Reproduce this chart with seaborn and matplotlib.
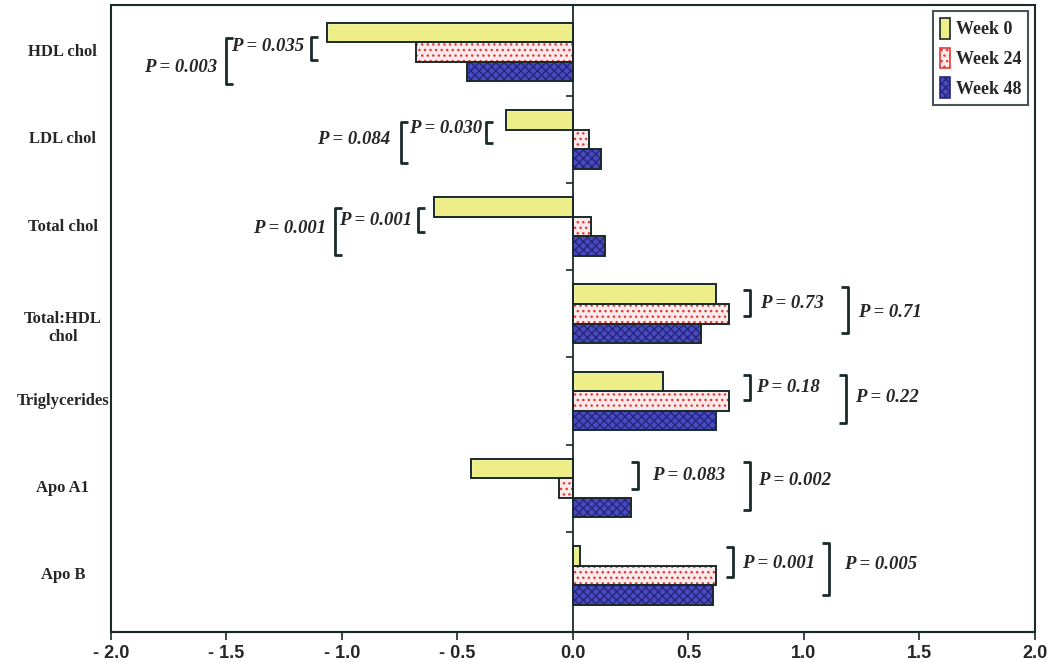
import matplotlib
matplotlib.use("Agg")
import matplotlib.pyplot as plt
import matplotlib.transforms as mtransforms
from matplotlib.patches import Rectangle, Patch
import pandas as pd
import seaborn as sns

categories = ["HDL chol", "LDL chol", "Total chol", "Total:HDL\nchol",
              "Triglycerides", "Apo A1", "Apo B"]
weeks = ["Week 0", "Week 24", "Week 48"]
week0 = [-1.065, -0.29, -0.60, 0.62, 0.39, -0.44, 0.03]
week24 = [-0.68, 0.07, 0.08, 0.675, 0.675, -0.06, 0.62]
week48 = [-0.46, 0.12, 0.14, 0.555, 0.62, 0.25, 0.605]
xticks = [-2.0, -1.5, -1.0, -0.5, 0.0, 0.5, 1.0, 1.5, 2.0]
xtick_labels = ["- 2.0", "- 1.5", "- 1.0", "- 0.5", "0.0", "0.5", "1.0", "1.5", "2.0"]
p_inner = ["P = 0.035", "P = 0.030", "P = 0.001", "P = 0.73", "P = 0.18", "P = 0.083", "P = 0.001"]
p_outer = ["P = 0.003", "P = 0.084", "P = 0.001", "P = 0.71", "P = 0.22", "P = 0.002", "P = 0.005"]

# bracket / label layout per category (offsets relative to category row)
# (inner x, inner y0, inner y1, text x, text y, outer x, outer y0, outer y1, text x, text y)
layout = [
    (-1.134, -0.17, 0.09, -1.32, -0.06, -1.50, -0.16, 0.36, -1.70, 0.18),
    (-0.377, -0.20, 0.04, -0.55, -0.13, -0.745, -0.20, 0.27, -0.95, 0.00),
    (-0.671, -0.21, 0.06, -0.853, -0.07, -1.03, -0.21, 0.33, -1.225, 0.02),
    (0.766, -0.27, 0.03, 0.948, -0.12, 1.19, -0.31, 0.22, 1.37, -0.01),
    (0.766, -0.30, -0.01, 0.93, -0.15, 1.18, -0.30, 0.25, 1.36, -0.04),
    (0.281, -0.30, 0.01, 0.50, -0.15, 0.766, -0.30, 0.25, 0.96, -0.09),
    (0.693, -0.32, 0.02, 0.89, -0.14, 1.11, -0.37, 0.22, 1.33, -0.12),
]

df = pd.DataFrame({
    "category": categories * 3,
    "week": [w for w in weeks for _ in categories],
    "value": week0 + week24 + week48,
})

sns.set_style("white")
plt.rcParams["hatch.linewidth"] = 1.0
serif = ["Liberation Serif", "DejaVu Serif"]
dark = "#1a2a2a"

styles = {
    "Week 0": dict(fc="#eeee88", hatch=None, hc=dark),
    "Week 24": dict(fc="#fdeaea", hatch="...", hc="#e03a3a"),
    "Week 48": dict(fc="#4a4ac2", hatch="xxxx", hc="#26267a"),
}

fig = plt.figure(figsize=(10.5, 6.62), dpi=100)
ax = fig.add_axes([0.1057, 0.0453, 0.88, 0.947])

sns.barplot(data=df, x="value", y="category", hue="week", orient="h",
            order=categories, hue_order=weeks, width=0.672, gap=0,
            palette=[styles[w]["fc"] for w in weeks], saturation=1,
            legend=False, ax=ax)

for cont, w in zip(ax.containers, weeks):
    st = styles[w]
    for bar in cont:
        if st["hatch"]:
            bar.set_hatch(st["hatch"])
            bar.set_edgecolor(st["hc"])
            bar.set_linewidth(0)
        ax.add_patch(Rectangle(bar.get_xy(), bar.get_width(), bar.get_height(),
                               fill=False, ec=dark, lw=1.4, zorder=3))

ax.set_xlim(-2, 2)
ax.set_ylim(6.65, -0.54)
ax.set_xlabel("")
ax.set_ylabel("")

# frame and zero line
for s in ["top", "right"]:
    ax.spines[s].set_visible(False)
ax.spines["left"].set_position(("data", 0))
ax.spines["left"].set_color(dark)
ax.spines["left"].set_linewidth(1.3)
ax.spines["bottom"].set_color(dark)
ax.spines["bottom"].set_linewidth(1.5)
ax.add_patch(Rectangle((0, 0), 1, 1, transform=ax.transAxes, fill=False,
                       ec=dark, lw=1.5, clip_on=False, zorder=5))

ax.set_yticks([i + 0.5 for i in range(len(categories) - 1)])
ax.set_yticklabels([])
ax.tick_params(axis="y", direction="out", length=5, width=1.2, color=dark, left=True)
ax.set_xticks(xticks)
ax.set_xticklabels(xtick_labels, fontfamily="Liberation Sans", fontweight="bold",
                   fontsize=13, fontstretch="condensed")
ax.tick_params(axis="x", direction="out", length=6, width=1.2, color=dark, bottom=True, pad=3)

trans = mtransforms.blended_transform_factory(ax.transAxes, ax.transData)
for i, c in enumerate(categories):
    off = 0.16 if "\n" in c else 0.0
    ax.text(-0.052, i + off, c, transform=trans, ha="center", va="center",
            family=serif, fontweight="bold", fontsize=12, linespacing=1.2)

tick = 0.03
for i, lay in enumerate(layout):
    bx, by0, by1, tx, ty, ox, oy0, oy1, ux, uy = lay
    d = tick if bx < 0 else -tick
    for x, y0, y1 in [(bx, by0, by1), (ox, oy0, oy1)]:
        ax.plot([x + d, x, x, x + d], [i + y0, i + y0, i + y1, i + y1],
                color=dark, lw=2, solid_capstyle="butt", zorder=4)
    ax.text(tx, i + ty, p_inner[i], ha="center", va="center", family=serif,
            fontweight="bold", fontstyle="italic", fontsize=13.5)
    ax.text(ux, i + uy, p_outer[i], ha="center", va="center", family=serif,
            fontweight="bold", fontstyle="italic", fontsize=13.5)

handles = [Patch(facecolor=styles[w]["fc"], hatch=styles[w]["hatch"],
                 edgecolor=styles[w]["hc"] if styles[w]["hatch"] else dark, lw=1.2)
           for w in weeks]
leg = ax.legend(handles, weeks, loc="upper right", bbox_to_anchor=(0.992, 0.99),
                borderaxespad=0, fancybox=False, handlelength=0.6, handleheight=1.4,
                handletextpad=0.3, labelspacing=0.5, borderpad=0.35,
                prop=dict(family=serif, weight="bold", size=13))
leg.get_frame().set_edgecolor(dark)
leg.get_frame().set_linewidth(1.5)

fig.savefig("out.png", dpi=100)
